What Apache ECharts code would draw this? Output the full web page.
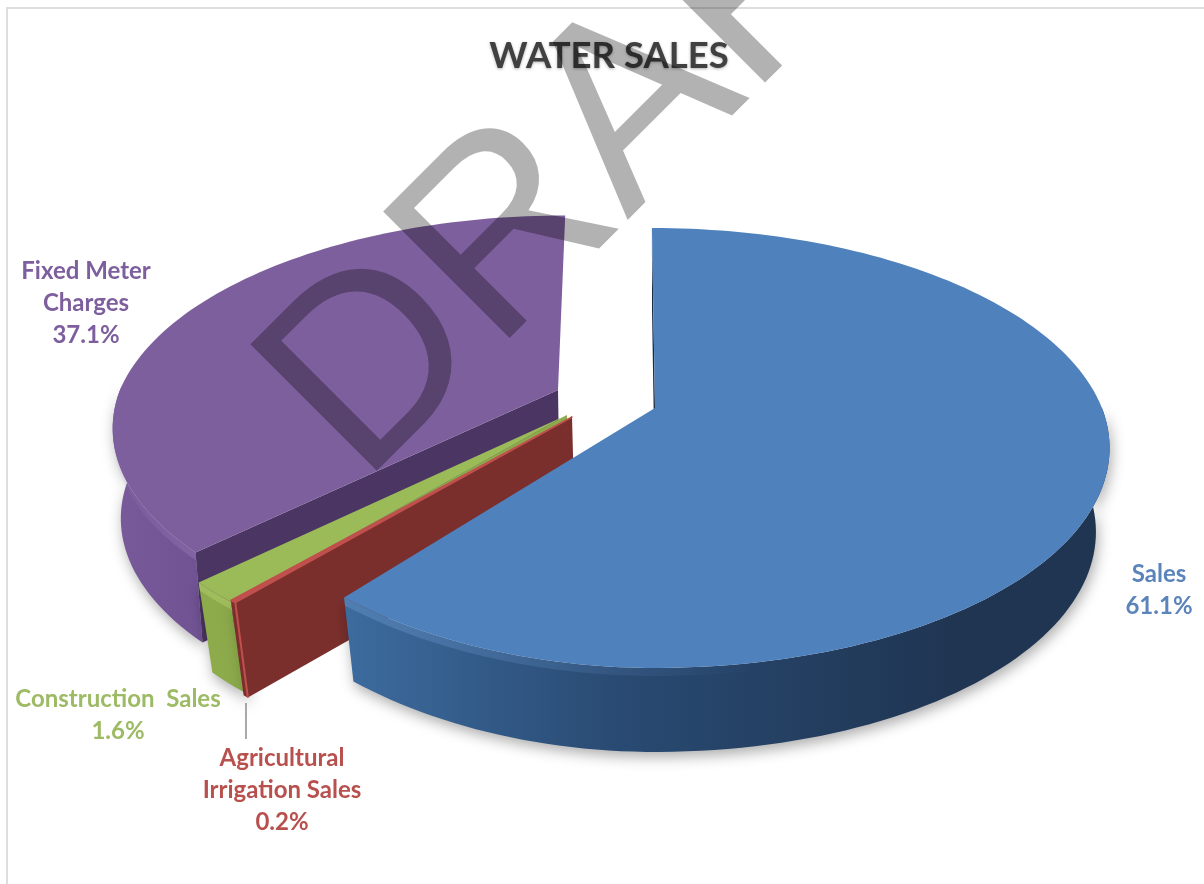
<!DOCTYPE html>
<html>
<head>
<meta charset="utf-8">
<style>html,body{margin:0;padding:0;background:#fff}#c{width:1204px;height:884px}</style>
<script src="https://cdn.jsdelivr.net/npm/echarts@6/dist/echarts.min.js"></script>
</head>
<body>
<div id="c"></div>
<script>
const categories = ['Sales', 'Agricultural Irrigation Sales', 'Construction Sales', 'Fixed Meter Charges'];
const values = [61.1, 0.2, 1.6, 37.1];
const labelLines = [['Sales'], ['Agricultural', 'Irrigation Sales'], ['Construction  Sales'], ['Fixed Meter', 'Charges']];
const topColors = ['#4f81bd', '#c0504d', '#9bbb59', '#7e5f9e'];
const textColors = ['#5b84bb', '#b8504e', '#9dba64', '#7e5f9e'];
const wallColors = ['#1a2d47', '#7a2f2c', '#8dab4b', '#4b3563'];
const apexX = [655, 572, 567, 558];
const apexY = [408, 417, 415, 390];
const perspLeft = [-0.1, -0.18, -0.18, -0.18];
const scaleX = [1, 1.011, 0.996, 0.98];
const scaleY = [1, 0.98, 1, 0.97];
const lean = [0.017, 0, 0, -0.04];
const depth = [84, 95, 90, 90];
const taper = [0.03, 0.03, 0.03, 0.015];
const labelX = [1159, 282, 118, 86];
const labelY = [574, 758, 699, 271];
const cy0 = 408, R = 447, A = 138.5, C = -0.1818, LH = 32, VANISH = 655, BEVEL = 8;

const total = values.reduce((a, b) => a + b, 0);
const starts = [];
values.reduce((acc, v, i) => { starts[i] = acc; return acc + v; }, 0);

function rim(i, t) {
  const a = t * Math.PI / 180, u = Math.sin(a), v = -Math.cos(a);
  const dy = (cy0 + A * v) / (1 + C * v) - cy0;
  const dx = R * u / (1 + (u < 0 ? perspLeft[i] : C) * v);
  return [apexX[i] + scaleX[i] * dx + lean[i] * Math.min(dy, 0), apexY[i] + scaleY[i] * dy];
}
function arc(i, a0, a1) {
  const n = Math.max(2, Math.ceil((a1 - a0) / 1.5)), out = [];
  for (let k = 0; k <= n; k++) out.push(rim(i, a0 + (a1 - a0) * k / n));
  return out;
}
const down = (p, i) => [p[0] + taper[i] * (VANISH - p[0]), p[1] + depth[i]];
const G = (x0, y0, x1, y1, stops) => new echarts.graphic.LinearGradient(x0, y0, x1, y1, stops.map(c => ({ offset: c[0], color: c[1] })), true);
const sideFills = [
  G(340, 0, 960, 0, [[0, '#3d6c9f'], [0.45, '#294a72'], [1, '#1f3552']]),
  '#7a2f2c',
  '#8dab4b',
  G(100, 0, 240, 0, [[0, '#7a5b9c'], [1, '#6c4f90']])
];
const bevels = [
  G(340, 0, 760, 0, [[0, 'rgba(111,155,209,0.4)'], [1, 'rgba(111,155,209,0)']]),
  'rgba(0,0,0,0)',
  'rgba(179,207,114,0.5)',
  G(120, 0, 210, 0, [[0, 'rgba(154,125,186,0.1)'], [1, 'rgba(154,125,186,0.45)']])
];

function renderItem(params, api) {
  const i = api.value(0);
  const a0 = starts[i] / total * 360, a1 = (starts[i] + values[i]) / total * 360;
  const apex = [apexX[i], apexY[i]];
  const edge = arc(i, a0, a1);
  const front = edge.filter(p => p[1] > apex[1] - 5);
  const side = front.concat(front.slice().reverse().map(p => down(p, i)));
  const lower = edge.filter(p => p[1] > apex[1] + 50);
  const bevelBand = lower.concat(lower.slice().reverse().map(p => {
    const d = down(p, i);
    return [p[0] + (d[0] - p[0]) * BEVEL / depth[i], p[1] + BEVEL];
  }));
  const wallEnd = rim(i, a0);
  const wall = [apex, wallEnd, down(wallEnd, i), down(apex, i)];
  const children = [
    { type: 'polygon', shape: { points: side }, style: { fill: sideFills[i], shadowBlur: 14, shadowColor: 'rgba(0,0,0,0.33)', shadowOffsetY: 5, shadowOffsetX: 2 } },
    { type: 'polygon', shape: { points: bevelBand }, style: { fill: bevels[i] } },
    { type: 'polygon', shape: { points: wall }, style: { fill: wallColors[i] } },
    { type: 'polygon', shape: { points: [apex].concat(edge) }, style: { fill: topColors[i], stroke: i === 1 ? topColors[i] : null, lineWidth: 1.5, lineJoin: 'round' } }
  ];
  if (i === 1) {
    children.push({ type: 'polyline', shape: { points: [wallEnd, down(wallEnd, i)] }, style: { fill: null, stroke: topColors[i], lineWidth: 2 } });
  }
  labelLines[i].concat([values[i].toFixed(1) + '%']).forEach((t, k) => {
    children.push({ type: 'text', x: labelX[i], y: labelY[i] + k * LH, style: {
      text: t, fill: textColors[i], font: 'bold 24px Lato, sans-serif', textAlign: 'center', textVerticalAlign: 'middle' } });
  });
  return { type: 'group', children };
}

const chart = echarts.init(document.getElementById('c'), null, { renderer: 'canvas' });
chart.setOption({
  animation: false,
  backgroundColor: '#fff',
  title: { text: 'WATER SALES', left: 604, top: 33, textAlign: 'center',
    textStyle: { fontFamily: 'Lato, sans-serif', fontWeight: 'bold', fontSize: 36.5, color: '#404040',
      textShadowColor: 'rgba(0,0,0,0.3)', textShadowBlur: 3, textShadowOffsetY: 1 } },
  series: [{
    type: 'custom', coordinateSystem: 'none', renderItem,
    data: [[3], [2], [1], [0]], silent: true, clip: false
  }],
  graphic: [
    { type: 'rect', shape: { x: 6, y: 7, width: 1198, height: 2 }, style: { fill: '#dedede' }, z: 0 },
    { type: 'rect', shape: { x: 6, y: 7, width: 2, height: 877 }, style: { fill: '#dedede' }, z: 0 },
    { type: 'line', shape: { x1: 246, y1: 703, x2: 246, y2: 739 }, style: { stroke: '#8c8c8c', lineWidth: 1.5 }, z: 5 },
    { type: 'text', x: 403, y: 527, rotation: Math.PI / 4, z: 100,
      style: { text: 'DRAFT', fill: 'rgba(0,0,0,0.3)', font: '260px "Liberation Sans", Arial, sans-serif', textVerticalAlign: 'bottom' } }
  ]
});
</script>
</body>
</html>
